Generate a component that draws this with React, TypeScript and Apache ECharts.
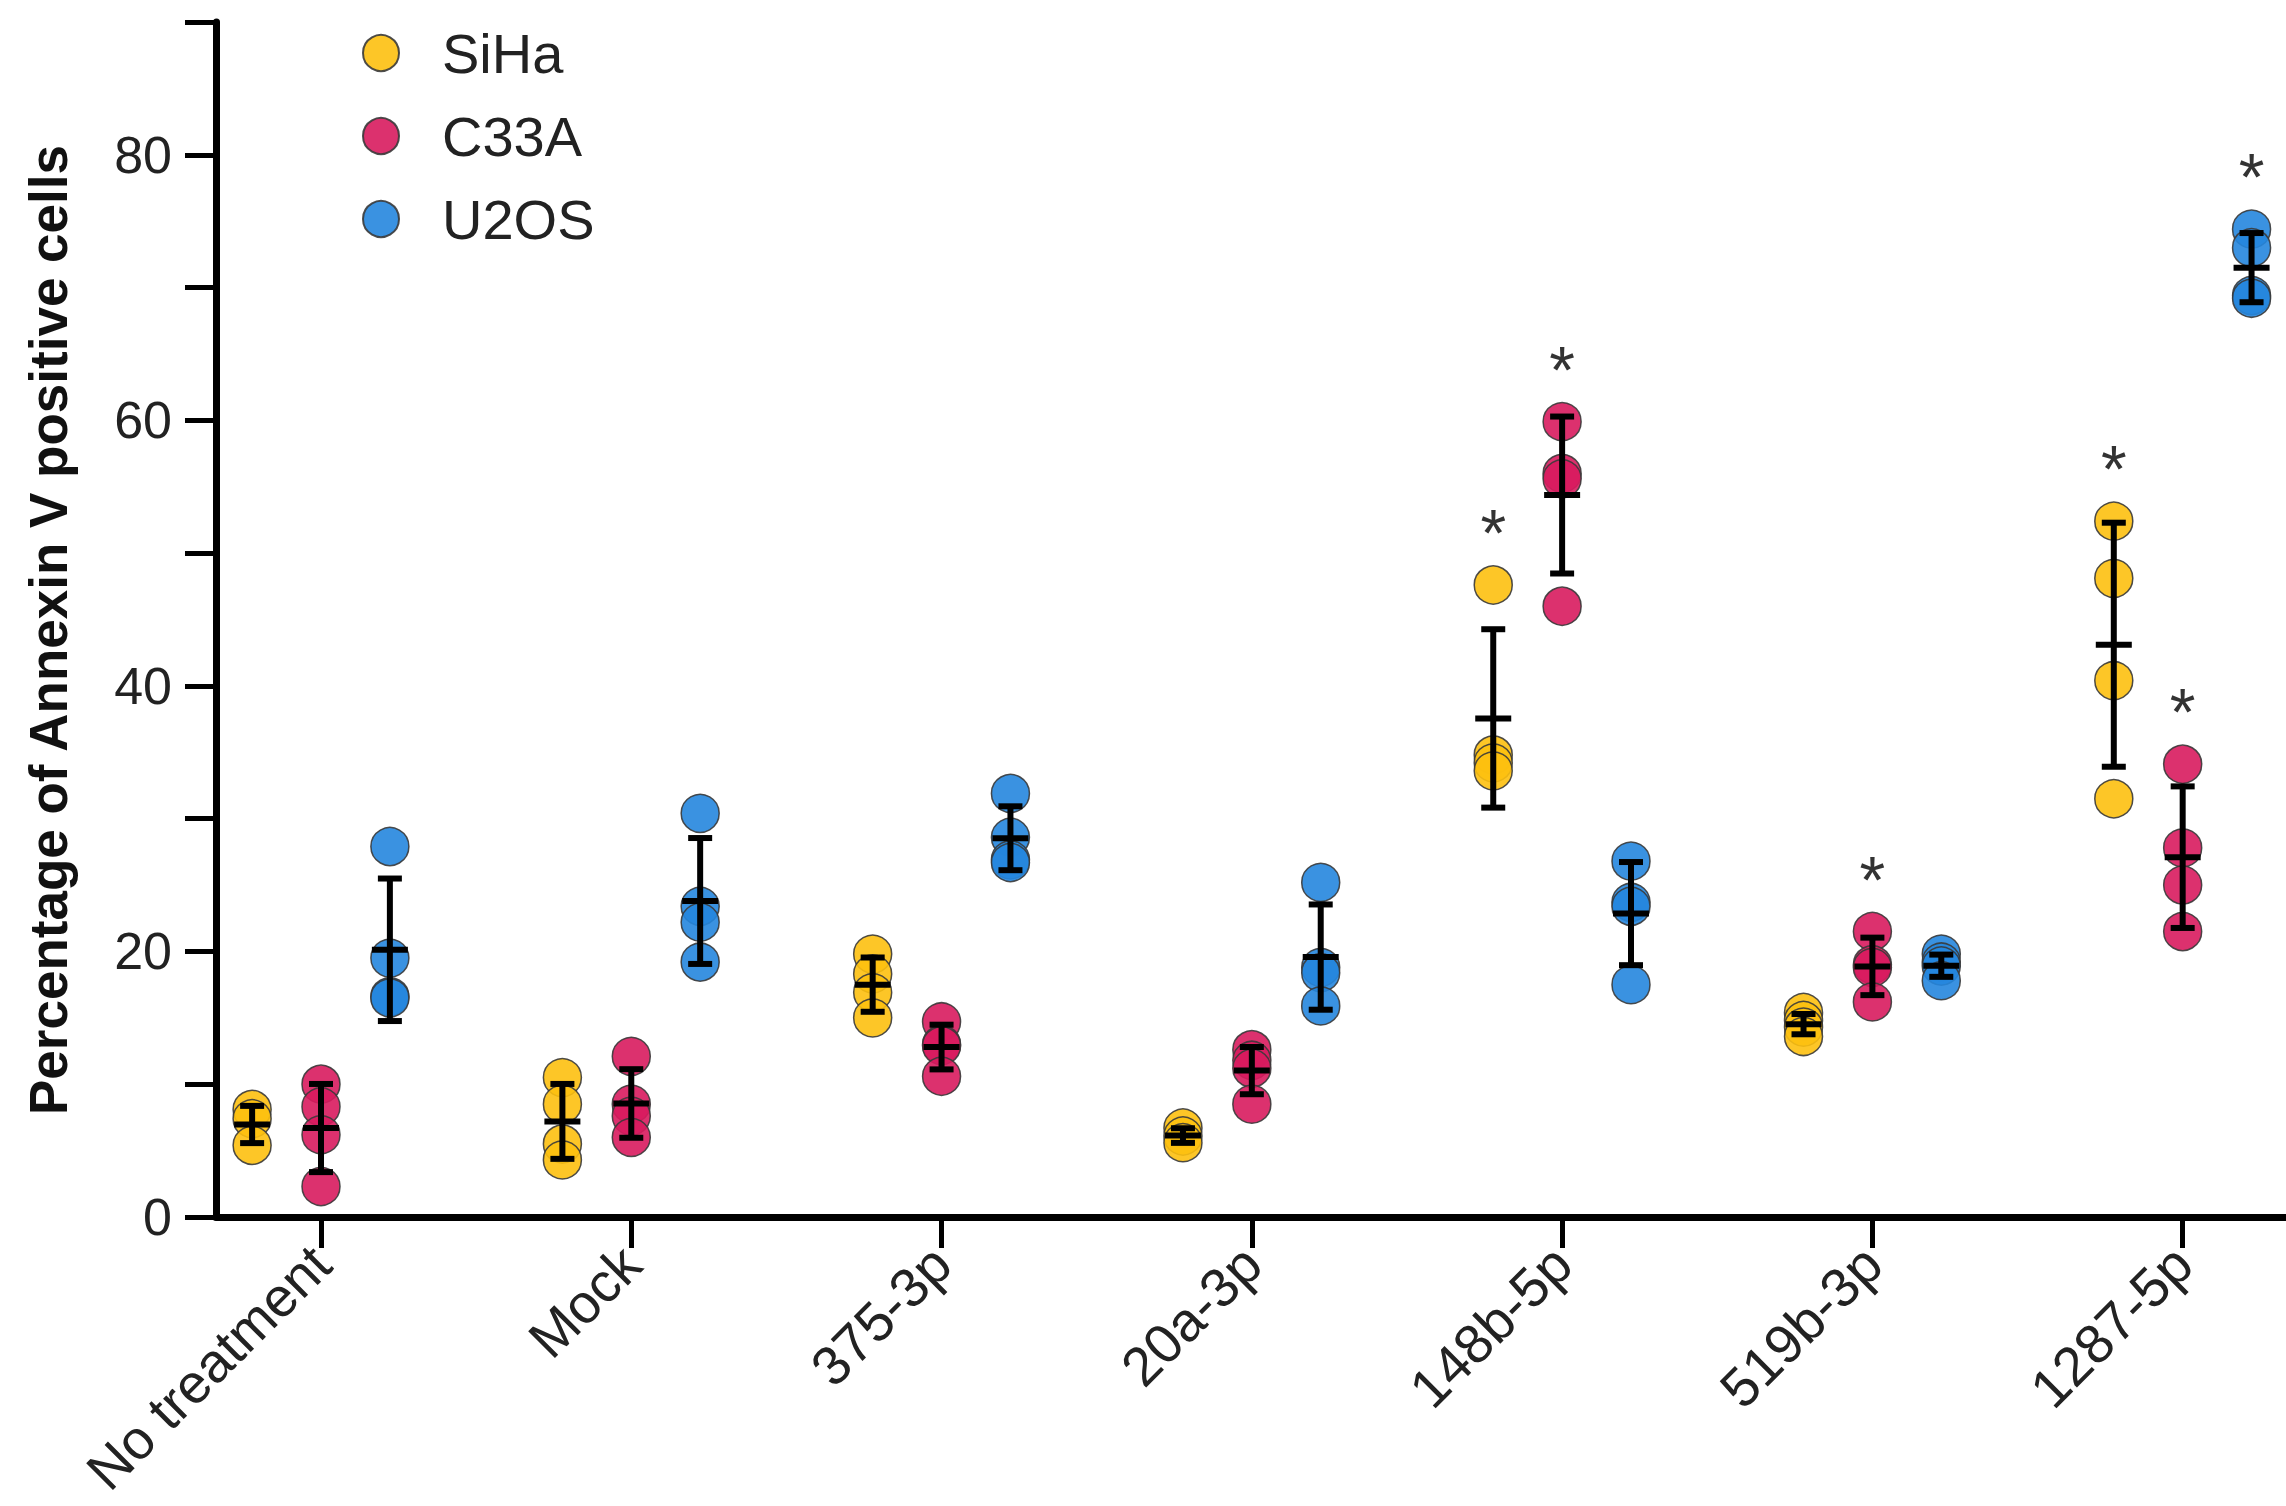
import React, { useEffect, useRef } from "react";
import * as echarts from "echarts";

const categories = ["No treatment", "Mock", "375-3p", "20a-3p", "148b-5p", "519b-3p", "1287-5p"];
const cellLines = ["SiHa", "C33A", "U2OS"];
const colors = ["#FDC010", "#D81B5E", "#2586DE"];
const yTicks = [0, 20, 40, 60, 80];

// replicate values per treatment
const sihaValues = [
  [8.1, 7.4, 5.4],
  [10.5, 8.5, 5.5, 4.3],
  [19.8, 18.3, 16.9, 15.0],
  [6.7, 6.1, 5.6],
  [47.6, 34.8, 34.2, 33.6],
  [15.4, 14.8, 14.3, 13.6],
  [52.4, 48.1, 40.4, 31.5],
];
const c33aValues = [
  [10.0, 8.3, 6.2, 2.3],
  [12.1, 8.5, 7.6, 6.0],
  [14.7, 13.0, 12.9, 10.6],
  [12.6, 11.8, 11.2, 8.5],
  [59.9, 56.0, 55.6, 46.0],
  [21.5, 19.0, 18.8, 16.2],
  [34.1, 27.8, 25.0, 21.5],
];
const u2osValues = [
  [27.9, 19.5, 16.6, 16.5],
  [30.4, 23.4, 22.2, 19.2],
  [31.9, 28.6, 26.9, 26.7],
  [25.2, 18.8, 18.4, 15.9],
  [26.8, 23.7, 23.4, 17.5],
  [19.8, 19.2, 18.9, 17.8],
  [74.4, 73.0, 69.4, 69.2],
];
// significance markers (*)
const sihaSig = [0, 0, 0, 0, 1, 0, 1];
const c33aSig = [0, 0, 0, 0, 1, 1, 1];
const u2osSig = [0, 0, 0, 0, 0, 0, 1];

const FONT = "Liberation Sans, Arial, Helvetica, sans-serif";
const offsets = [-0.222, 0, 0.222];

function mean(a: number[]) {
  return a.reduce((s, v) => s + v, 0) / a.length;
}
function sd(a: number[]) {
  const m = mean(a);
  return Math.sqrt(a.reduce((s, v) => s + (v - m) * (v - m), 0) / (a.length - 1));
}

export default function App() {
  const ref = useRef<HTMLDivElement>(null);
  useEffect(() => {
    if (!ref.current) return;
    const chart = echarts.init(ref.current, null, { renderer: "svg" });
    const groups = [sihaValues, c33aValues, u2osValues];
    const sigs = [sihaSig, c33aSig, u2osSig];

    const pointSeries = groups.map((g, si) => ({
      name: cellLines[si],
      type: "scatter",
      symbol: "circle",
      symbolSize: 38,
      z: 2,
      itemStyle: { color: colors[si], borderColor: "#3a3a3a", borderWidth: 1.5, opacity: 0.9 },
      data: g.flatMap((vals, ci) => vals.map((v) => [ci + 1 + offsets[si], v])),
    }));

    const errData: number[][] = [];
    groups.forEach((g, si) =>
      g.forEach((vals, ci) => errData.push([ci + 1 + offsets[si], mean(vals), sd(vals)]))
    );
    const errSeries = {
      type: "custom",
      name: "err",
      z: 3,
      silent: true,
      data: errData,
      encode: { x: 0, y: 1 },
      renderItem: (params: any, api: any) => {
        const x = api.value(0);
        const m = api.value(1);
        const s = api.value(2);
        const top = api.coord([x, m + s]);
        const bot = api.coord([x, m - s]);
        const mid = api.coord([x, m]);
        const style = { stroke: "#000", lineWidth: 6 };
        return {
          type: "group",
          children: [
            { type: "line", shape: { x1: top[0], y1: top[1], x2: bot[0], y2: bot[1] }, style },
            { type: "line", shape: { x1: top[0] - 12, y1: top[1], x2: top[0] + 12, y2: top[1] }, style },
            { type: "line", shape: { x1: bot[0] - 12, y1: bot[1], x2: bot[0] + 12, y2: bot[1] }, style },
            { type: "line", shape: { x1: mid[0] - 18, y1: mid[1], x2: mid[0] + 18, y2: mid[1] }, style },
          ],
        };
      },
    };

    const sigData: number[][] = [];
    groups.forEach((g, si) =>
      g.forEach((vals, ci) => {
        if (sigs[si][ci]) sigData.push([ci + 1 + offsets[si], Math.max(...vals)]);
      })
    );
    const sigSeries = {
      type: "custom",
      name: "sig",
      z: 4,
      silent: true,
      data: sigData,
      encode: { x: 0, y: 1 },
      renderItem: (params: any, api: any) => {
        const c = api.coord([api.value(0), api.value(1)]);
        return {
          type: "text",
          x: c[0],
          y: c[1] - 52,
          style: {
            text: "*",
            fontSize: 66,
            fontFamily: FONT,
            fill: "#333",
            align: "center",
            verticalAlign: "middle",
          },
        };
      },
    };

    chart.setOption({
      animation: false,
      backgroundColor: "#fff",
      grid: { left: 216, right: 0, top: 22, bottom: 289, containLabel: false },
      legend: {
        data: cellLines,
        orient: "vertical",
        left: 357,
        top: 20,
        itemWidth: 36,
        itemHeight: 36,
        itemGap: 27,
        icon: "circle",
        textStyle: { fontSize: 56, fontFamily: FONT, color: "#222", padding: [0, 0, 0, 38] },
      },
      xAxis: {
        type: "value",
        min: 0.6616,
        max: 7.333,
        splitLine: { show: false },
        axisLine: { show: true, lineStyle: { color: "#000", width: 7 } },
        axisTick: {
          show: true,
          customValues: categories.map((_, i) => i + 1),
          length: 31,
          lineStyle: { color: "#000", width: 5 },
        },
        axisLabel: {
          customValues: categories.map((_, i) => i + 1),
          formatter: (v: number) => categories[Math.round(v) - 1] ?? "",
          rotate: 45,
          margin: 38,
          fontSize: 55,
          fontFamily: FONT,
          color: "#222",
        },
      },
      yAxis: {
        type: "value",
        min: 0,
        max: 90,
        interval: 10,
        splitLine: { show: false },
        axisLine: { show: true, lineStyle: { color: "#000", width: 7 } },
        axisTick: { show: true, length: 31, lineStyle: { color: "#000", width: 5 } },
        axisLabel: {
          formatter: (v: number) => (yTicks.includes(v) ? String(v) : ""),
          margin: 44,
          fontSize: 52,
          fontFamily: FONT,
          color: "#222",
        },
      },
      graphic: [
        {
          type: "text",
          x: 48,
          y: 630,
          rotation: Math.PI / 2,
          style: {
            text: "Percentage of Annexin V positive cells",
            fontSize: 53,
            fontWeight: "bold",
            fontFamily: FONT,
            fill: "#111",
            align: "center",
            verticalAlign: "middle",
          },
        },
      ],
      series: [...pointSeries, errSeries, sigSeries],
    });
    return () => chart.dispose();
  }, []);
  return (
    <div
      ref={ref}
      style={{ position: "absolute", left: 0, top: 0, width: 2286, height: 1506, background: "#fff" }}
    />
  );
}
